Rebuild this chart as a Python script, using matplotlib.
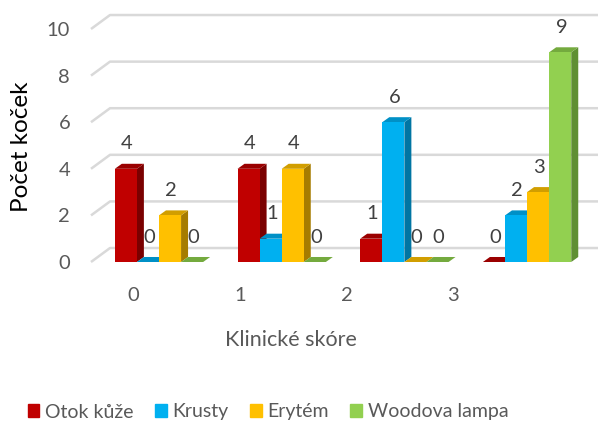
import matplotlib.pyplot as plt
from matplotlib.patches import Polygon, Patch
import numpy as np

plt.rcParams['font.family'] = ['Lato', 'DejaVu Sans']

scores = ['0', '1', '2', '3']
series = ['Otok kůže', 'Krusty', 'Erytém', 'Woodova lampa']
otok = [4, 4, 1, 0]
krusty = [0, 1, 6, 2]
erytem = [2, 4, 0, 3]
woodova = [0, 0, 0, 9]
values = [otok, krusty, erytem, woodova]

front_c = ['#C00000', '#00B0F0', '#FFC000', '#92D050']
side_c = ['#7A0000', '#0075A3', '#A67C00', '#5F8F33']
top_c = ['#9A0000', '#0090C6', '#D19E00', '#74AA3E']
grid_c = '#D9D9D9'
text_c = '#595959'

fig = plt.figure(figsize=(6, 4.24), dpi=100)
ax = fig.add_axes([91/600, (424-262)/424, (598-91)/600, (262-29)/424])
ax.set_xlim(-0.554, 3.578)
ax.set_ylim(0, 10)

# fake 3d: bar depth and back wall offset (in data units)
w = 0.18
ddx, ddy = 0.057, 0.215
wdx, wdy = 0.155, 0.6

x = np.arange(len(scores))
x0, x1 = ax.get_xlim()
for v in range(0, 11, 2):
    ax.plot([x0, x0 + wdx, x1], [v, v + wdy, v + wdy], color=grid_c, lw=1.8,
            zorder=1, clip_on=False, solid_capstyle='butt')

for j, vals in enumerate(values):
    pos = x + (j - 1.5) * w
    ax.bar(pos, vals, width=w, color=front_c[j], zorder=4 + 2*j)
    for xc, v in zip(pos, vals):
        l, r = xc - w/2, xc + w/2
        ax.add_patch(Polygon([(r, 0), (r + ddx, ddy), (r + ddx, v + ddy), (r, v)],
                             closed=True, fc=side_c[j], ec='none', zorder=3 + 2*j))
        ax.add_patch(Polygon([(l, v), (r, v), (r + ddx, v + ddy), (l + ddx, v + ddy)],
                             closed=True, fc=top_c[j], ec='none', zorder=3 + 2*j,
                             clip_on=False))
        ax.text(xc + 0.01, v + 1.07, str(v), ha='center', va='center',
                fontsize=14.5, color='#404040', zorder=20, clip_on=False)

ax.set_yticks(range(0, 11, 2))
ax.set_xticks(x * 0.869 - 0.21)
ax.set_xticklabels(scores)
ax.tick_params(axis='y', length=0, pad=15, labelsize=14.5, labelcolor=text_c)
ax.tick_params(axis='x', length=0, pad=18, labelsize=14.5, labelcolor=text_c)
for s in ax.spines.values():
    s.set_visible(False)

fig.text(291/600, 1 - 340/424, 'Klinické skóre', ha='center', va='center',
         fontsize=15.5, color=text_c)
fig.text(21/600, 1 - 147/424, 'Počet koček', ha='center', va='center',
         rotation=90, fontsize=17.5, color='black')

handles = [Patch(color=c) for c in front_c]
fig.legend(handles, series, loc='center', bbox_to_anchor=(268/600, 1 - 412/424),
           ncol=4, frameon=False, handlelength=0.6, handleheight=0.6,
           handletextpad=0.3, columnspacing=1.1, fontsize=14, labelcolor=text_c)

fig.savefig('out.png', dpi=100)
